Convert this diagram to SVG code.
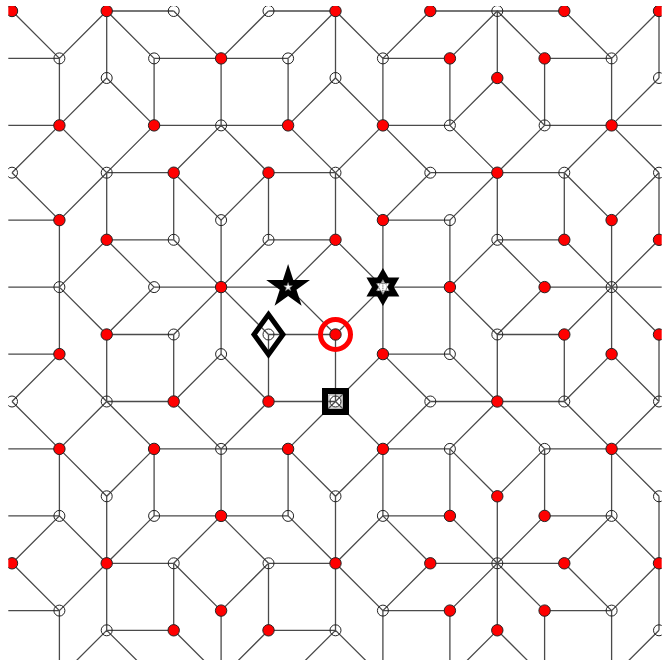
<svg xmlns="http://www.w3.org/2000/svg" width="669" height="662" viewBox="0 0 669 662">
<style>
.e{fill:none;stroke:#4a4a4a;stroke-width:1.3}
.r{fill:#f00;stroke:#222;stroke-width:1}
.w{fill:none;stroke:#222;stroke-width:1}
</style>
<defs>
<clipPath id="clip"><rect x="8.3" y="6" width="653.4" height="654"/></clipPath>
</defs>
<rect width="669" height="662" fill="#fff"/>
<g clip-path="url(#clip)">
<g id="connectors" class="e">
<path d="M106.7 11H173.7M268.5 11H335.5M430.3 11H564.3M106.7 563.3H173.7M268.5 563.3H335.5M430.3 563.3H564.3M-7.6 58.4H59.4M154.1 58.4H288.1M382.9 58.4H449.9M544.6 58.4H611.6M-7.6 515.9H59.4M154.1 515.9H288.1M382.9 515.9H449.9M544.6 515.9H611.6M-7.6 125.4H59.4M154.1 125.4H288.1M382.9 125.4H449.9M544.6 125.4H678.6M-7.6 448.9H59.4M154.1 448.9H288.1M382.9 448.9H449.9M544.6 448.9H678.6M106.7 172.7H173.7M268.5 172.7H335.5M430.3 172.7H564.3M106.7 401.5H173.7M268.5 401.5H335.5M430.3 401.5H564.3M-7.6 220.1H59.4M382.9 220.1H449.9M-7.6 354.1H59.4M382.9 354.1H449.9M106.7 239.8H173.7M268.5 239.8H335.5M497.3 239.8H564.3M106.7 334.5H173.7M268.5 334.5H335.5M497.3 334.5H564.3M-7.6 287.1H59.4M154.1 287.1H288.1M382.9 287.1H449.9M544.6 287.1H678.6M-7.6 610.6H59.4M382.9 610.6H449.9M544.6 610.6H611.6M106.7 630.3H173.7M268.5 630.3H335.5"/>
<path d="M106.7 11V78M335.5 11V78M497.3 11V78M659 11V78M106.7 496.3V630.3M335.5 496.3V630.3M497.3 496.3V630.3M659 496.3V630.3M173.7 563.3V630.3M268.5 563.3V630.3M59.4 58.4V125.4M154.1 58.4V125.4M221.1 58.4V125.4M288.1 58.4V125.4M382.9 58.4V125.4M449.9 58.4V125.4M544.6 58.4V125.4M611.6 58.4V125.4M59.4 448.9V515.9M154.1 448.9V515.9M221.1 448.9V515.9M288.1 448.9V515.9M382.9 448.9V515.9M449.9 448.9V515.9M544.6 448.9V515.9M611.6 448.9V515.9M59.4 610.6V677.6M221.1 610.6V677.6M382.9 610.6V677.6M449.9 610.6V677.6M544.6 610.6V677.6M611.6 610.6V677.6M106.7 172.7V239.8M173.7 172.7V239.8M268.5 172.7V239.8M335.5 172.7V239.8M497.3 172.7V239.8M564.3 172.7V239.8M659 172.7V239.8M106.7 334.5V401.5M173.7 334.5V401.5M268.5 334.5V401.5M335.5 334.5V401.5M497.3 334.5V401.5M564.3 334.5V401.5M659 334.5V401.5M59.4 220.1V354.1M221.1 220.1V354.1M382.9 220.1V354.1M449.9 220.1V354.1M611.6 220.1V354.1"/>
<path d="M12 11L59.4 58.4L106.7 11L154.1 58.4M173.7 11L221.1 58.4L268.5 11M288.1 58.4L335.5 11L382.9 58.4L430.3 11M449.9 58.4L497.3 11L544.6 58.4M564.3 11L611.6 58.4L659 11M12 563.3L59.4 515.9L106.7 563.3L154.1 515.9M173.7 563.3L221.1 515.9L268.5 563.3M288.1 515.9L335.5 563.3L382.9 515.9L430.3 563.3M449.9 515.9L497.3 563.3L544.6 515.9M564.3 563.3L611.6 515.9L659 563.3M12 563.3L59.4 610.6L106.7 563.3M173.7 563.3L221.1 610.6L268.5 563.3M335.5 563.3L382.9 610.6L430.3 563.3M449.9 610.6L497.3 563.3L544.6 610.6M564.3 563.3L611.6 610.6L659 563.3M59.4 125.4L106.7 78L154.1 125.4M288.1 125.4L335.5 78L382.9 125.4M449.9 125.4L497.3 78L544.6 125.4M611.6 125.4L659 78M59.4 448.9L106.7 496.3L154.1 448.9M288.1 448.9L335.5 496.3L382.9 448.9M449.9 448.9L497.3 496.3L544.6 448.9M611.6 448.9L659 496.3M12 172.7L59.4 125.4L106.7 172.7L154.1 125.4M173.7 172.7L221.1 125.4L268.5 172.7M288.1 125.4L335.5 172.7L382.9 125.4L430.3 172.7M449.9 125.4L497.3 172.7L544.6 125.4M564.3 172.7L611.6 125.4L659 172.7M12 401.5L59.4 448.9L106.7 401.5L154.1 448.9M173.7 401.5L221.1 448.9L268.5 401.5M288.1 448.9L335.5 401.5L382.9 448.9L430.3 401.5M449.9 448.9L497.3 401.5L544.6 448.9M564.3 401.5L611.6 448.9L659 401.5M12 172.7L59.4 220.1L106.7 172.7M173.7 172.7L221.1 220.1L268.5 172.7M335.5 172.7L382.9 220.1L430.3 172.7M497.3 172.7L449.9 220.1M564.3 172.7L611.6 220.1L659 172.7M12 401.5L59.4 354.1L106.7 401.5M173.7 401.5L221.1 354.1L268.5 401.5M335.5 401.5L382.9 354.1L430.3 401.5M497.3 401.5L449.9 354.1M564.3 401.5L611.6 354.1L659 401.5M59.4 287.1L106.7 239.8L154.1 287.1M173.7 239.8L221.1 287.1L268.5 239.8M288.1 287.1L335.5 239.8L382.9 287.1M449.9 287.1L497.3 239.8L544.6 287.1M564.3 239.8L611.6 287.1L659 239.8M59.4 287.1L106.7 334.5L154.1 287.1M173.7 334.5L221.1 287.1L268.5 334.5M288.1 287.1L335.5 334.5L382.9 287.1M449.9 287.1L497.3 334.5L544.6 287.1M564.3 334.5L611.6 287.1L659 334.5M59.4 677.6L106.7 630.3L154.1 677.6M173.7 630.3L221.1 677.6L268.5 630.3M288.1 677.6L335.5 630.3L382.9 677.6M449.9 677.6L497.3 630.3L544.6 677.6M611.6 677.6L659 630.3"/>
</g>
<g id="nodes">
<g id="n-a1"><circle class="r" cx="12" cy="11" r="5.7"/></g>
<g id="n-c1"><circle class="r" cx="106.7" cy="11" r="5.7"/></g>
<g id="n-e1"><circle class="w" cx="173.7" cy="11" r="5.5"/></g>
<g id="n-g1"><circle class="w" cx="268.5" cy="11" r="5.5"/></g>
<g id="n-i1"><circle class="r" cx="335.5" cy="11" r="5.7"/></g>
<g id="n-k1"><circle class="r" cx="430.3" cy="11" r="5.7"/></g>
<g id="n-m1"><circle class="w" cx="497.3" cy="11" r="5.5"/></g>
<g id="n-o1"><circle class="r" cx="564.3" cy="11" r="5.7"/></g>
<g id="n-q1"><circle class="r" cx="659" cy="11" r="5.7"/></g>
<g id="n-b2"><circle class="w" cx="59.4" cy="58.4" r="5.5"/></g>
<g id="n-d2"><circle class="w" cx="154.1" cy="58.4" r="5.5"/></g>
<g id="n-f2"><circle class="r" cx="221.1" cy="58.4" r="5.7"/></g>
<g id="n-h2"><circle class="w" cx="288.1" cy="58.4" r="5.5"/></g>
<g id="n-j2"><circle class="w" cx="382.9" cy="58.4" r="5.5"/></g>
<g id="n-l2"><circle class="r" cx="449.9" cy="58.4" r="5.7"/></g>
<g id="n-n2"><circle class="r" cx="544.6" cy="58.4" r="5.7"/></g>
<g id="n-p2"><circle class="w" cx="611.6" cy="58.4" r="5.5"/></g>
<g id="n-c3"><circle class="w" cx="106.7" cy="78" r="5.5"/></g>
<g id="n-i3"><circle class="w" cx="335.5" cy="78" r="5.5"/></g>
<g id="n-m3"><circle class="r" cx="497.3" cy="78" r="5.7"/></g>
<g id="n-q3"><circle class="w" cx="659" cy="78" r="5.5"/></g>
<g id="n-b4"><circle class="r" cx="59.4" cy="125.4" r="5.7"/></g>
<g id="n-d4"><circle class="r" cx="154.1" cy="125.4" r="5.7"/></g>
<g id="n-f4"><circle class="w" cx="221.1" cy="125.4" r="5.5"/></g>
<g id="n-h4"><circle class="r" cx="288.1" cy="125.4" r="5.7"/></g>
<g id="n-j4"><circle class="r" cx="382.9" cy="125.4" r="5.7"/></g>
<g id="n-l4"><circle class="w" cx="449.9" cy="125.4" r="5.5"/></g>
<g id="n-n4"><circle class="w" cx="544.6" cy="125.4" r="5.5"/></g>
<g id="n-p4"><circle class="r" cx="611.6" cy="125.4" r="5.7"/></g>
<g id="n-a5"><circle class="w" cx="12" cy="172.7" r="5.5"/></g>
<g id="n-c5"><circle class="w" cx="106.7" cy="172.7" r="5.5"/></g>
<g id="n-e5"><circle class="r" cx="173.7" cy="172.7" r="5.7"/></g>
<g id="n-g5"><circle class="r" cx="268.5" cy="172.7" r="5.7"/></g>
<g id="n-i5"><circle class="w" cx="335.5" cy="172.7" r="5.5"/></g>
<g id="n-k5"><circle class="w" cx="430.3" cy="172.7" r="5.5"/></g>
<g id="n-m5"><circle class="r" cx="497.3" cy="172.7" r="5.7"/></g>
<g id="n-o5"><circle class="w" cx="564.3" cy="172.7" r="5.5"/></g>
<g id="n-q5"><circle class="w" cx="659" cy="172.7" r="5.5"/></g>
<g id="n-b6"><circle class="r" cx="59.4" cy="220.1" r="5.7"/></g>
<g id="n-f6"><circle class="w" cx="221.1" cy="220.1" r="5.5"/></g>
<g id="n-j6"><circle class="r" cx="382.9" cy="220.1" r="5.7"/></g>
<g id="n-l6"><circle class="w" cx="449.9" cy="220.1" r="5.5"/></g>
<g id="n-p6"><circle class="r" cx="611.6" cy="220.1" r="5.7"/></g>
<g id="n-c7"><circle class="r" cx="106.7" cy="239.8" r="5.7"/></g>
<g id="n-e7"><circle class="w" cx="173.7" cy="239.8" r="5.5"/></g>
<g id="n-g7"><circle class="w" cx="268.5" cy="239.8" r="5.5"/></g>
<g id="n-i7"><circle class="r" cx="335.5" cy="239.8" r="5.7"/></g>
<g id="n-m7"><circle class="w" cx="497.3" cy="239.8" r="5.5"/></g>
<g id="n-o7"><circle class="r" cx="564.3" cy="239.8" r="5.7"/></g>
<g id="n-q7"><circle class="r" cx="659" cy="239.8" r="5.7"/></g>
<g id="n-b8"><circle class="w" cx="59.4" cy="287.1" r="5.5"/></g>
<g id="n-d8"><circle class="w" cx="154.1" cy="287.1" r="5.5"/></g>
<g id="n-f8"><circle class="r" cx="221.1" cy="287.1" r="5.7"/></g>
<g id="n-h8"><circle class="w" cx="288.1" cy="287.1" r="5.5"/></g>
<g id="n-j8"><circle class="w" cx="382.9" cy="287.1" r="5.5"/></g>
<g id="n-l8"><circle class="r" cx="449.9" cy="287.1" r="5.7"/></g>
<g id="n-n8"><circle class="r" cx="544.6" cy="287.1" r="5.7"/></g>
<g id="n-p8"><circle class="w" cx="611.6" cy="287.1" r="5.5"/></g>
<g id="n-c9"><circle class="r" cx="106.7" cy="334.5" r="5.7"/></g>
<g id="n-e9"><circle class="w" cx="173.7" cy="334.5" r="5.5"/></g>
<g id="n-g9"><circle class="w" cx="268.5" cy="334.5" r="5.5"/></g>
<g id="n-i9"><circle class="r" cx="335.5" cy="334.5" r="5.7"/></g>
<g id="n-m9"><circle class="w" cx="497.3" cy="334.5" r="5.5"/></g>
<g id="n-o9"><circle class="r" cx="564.3" cy="334.5" r="5.7"/></g>
<g id="n-q9"><circle class="r" cx="659" cy="334.5" r="5.7"/></g>
<g id="n-b10"><circle class="r" cx="59.4" cy="354.1" r="5.7"/></g>
<g id="n-f10"><circle class="w" cx="221.1" cy="354.1" r="5.5"/></g>
<g id="n-j10"><circle class="r" cx="382.9" cy="354.1" r="5.7"/></g>
<g id="n-l10"><circle class="w" cx="449.9" cy="354.1" r="5.5"/></g>
<g id="n-p10"><circle class="r" cx="611.6" cy="354.1" r="5.7"/></g>
<g id="n-a11"><circle class="w" cx="12" cy="401.5" r="5.5"/></g>
<g id="n-c11"><circle class="w" cx="106.7" cy="401.5" r="5.5"/></g>
<g id="n-e11"><circle class="r" cx="173.7" cy="401.5" r="5.7"/></g>
<g id="n-g11"><circle class="r" cx="268.5" cy="401.5" r="5.7"/></g>
<g id="n-i11"><circle class="w" cx="335.5" cy="401.5" r="5.5"/></g>
<g id="n-k11"><circle class="w" cx="430.3" cy="401.5" r="5.5"/></g>
<g id="n-m11"><circle class="r" cx="497.3" cy="401.5" r="5.7"/></g>
<g id="n-o11"><circle class="w" cx="564.3" cy="401.5" r="5.5"/></g>
<g id="n-q11"><circle class="w" cx="659" cy="401.5" r="5.5"/></g>
<g id="n-b12"><circle class="r" cx="59.4" cy="448.9" r="5.7"/></g>
<g id="n-d12"><circle class="r" cx="154.1" cy="448.9" r="5.7"/></g>
<g id="n-f12"><circle class="w" cx="221.1" cy="448.9" r="5.5"/></g>
<g id="n-h12"><circle class="r" cx="288.1" cy="448.9" r="5.7"/></g>
<g id="n-j12"><circle class="r" cx="382.9" cy="448.9" r="5.7"/></g>
<g id="n-l12"><circle class="w" cx="449.9" cy="448.9" r="5.5"/></g>
<g id="n-n12"><circle class="w" cx="544.6" cy="448.9" r="5.5"/></g>
<g id="n-p12"><circle class="r" cx="611.6" cy="448.9" r="5.7"/></g>
<g id="n-c13"><circle class="w" cx="106.7" cy="496.3" r="5.5"/></g>
<g id="n-i13"><circle class="w" cx="335.5" cy="496.3" r="5.5"/></g>
<g id="n-m13"><circle class="r" cx="497.3" cy="496.3" r="5.7"/></g>
<g id="n-q13"><circle class="w" cx="659" cy="496.3" r="5.5"/></g>
<g id="n-b14"><circle class="w" cx="59.4" cy="515.9" r="5.5"/></g>
<g id="n-d14"><circle class="w" cx="154.1" cy="515.9" r="5.5"/></g>
<g id="n-f14"><circle class="r" cx="221.1" cy="515.9" r="5.7"/></g>
<g id="n-h14"><circle class="w" cx="288.1" cy="515.9" r="5.5"/></g>
<g id="n-j14"><circle class="w" cx="382.9" cy="515.9" r="5.5"/></g>
<g id="n-l14"><circle class="r" cx="449.9" cy="515.9" r="5.7"/></g>
<g id="n-n14"><circle class="r" cx="544.6" cy="515.9" r="5.7"/></g>
<g id="n-p14"><circle class="w" cx="611.6" cy="515.9" r="5.5"/></g>
<g id="n-a15"><circle class="r" cx="12" cy="563.3" r="5.7"/></g>
<g id="n-c15"><circle class="r" cx="106.7" cy="563.3" r="5.7"/></g>
<g id="n-e15"><circle class="w" cx="173.7" cy="563.3" r="5.5"/></g>
<g id="n-g15"><circle class="w" cx="268.5" cy="563.3" r="5.5"/></g>
<g id="n-i15"><circle class="r" cx="335.5" cy="563.3" r="5.7"/></g>
<g id="n-k15"><circle class="r" cx="430.3" cy="563.3" r="5.7"/></g>
<g id="n-m15"><circle class="w" cx="497.3" cy="563.3" r="5.5"/></g>
<g id="n-o15"><circle class="r" cx="564.3" cy="563.3" r="5.7"/></g>
<g id="n-q15"><circle class="r" cx="659" cy="563.3" r="5.7"/></g>
<g id="n-b16"><circle class="w" cx="59.4" cy="610.6" r="5.5"/></g>
<g id="n-f16"><circle class="r" cx="221.1" cy="610.6" r="5.7"/></g>
<g id="n-j16"><circle class="w" cx="382.9" cy="610.6" r="5.5"/></g>
<g id="n-l16"><circle class="r" cx="449.9" cy="610.6" r="5.7"/></g>
<g id="n-n16"><circle class="r" cx="544.6" cy="610.6" r="5.7"/></g>
<g id="n-p16"><circle class="w" cx="611.6" cy="610.6" r="5.5"/></g>
<g id="n-c17"><circle class="w" cx="106.7" cy="630.3" r="5.5"/></g>
<g id="n-e17"><circle class="r" cx="173.7" cy="630.3" r="5.7"/></g>
<g id="n-g17"><circle class="r" cx="268.5" cy="630.3" r="5.7"/></g>
<g id="n-i17"><circle class="w" cx="335.5" cy="630.3" r="5.5"/></g>
<g id="n-m17"><circle class="r" cx="497.3" cy="630.3" r="5.7"/></g>
<g id="n-q17"><circle class="w" cx="659" cy="630.3" r="5.5"/></g>
</g>
<g id="marker-star">
<polygon points="288.1,264.1 293.27,279.98 309.98,279.99 296.47,289.82 301.62,305.71 288.1,295.9 274.58,305.71 279.73,289.82 266.22,279.99 282.93,279.98" fill="#000"/>
<polygon points="288.1,282.6 289.16,285.64 292.38,285.71 289.81,287.66 290.75,290.74 288.1,288.9 285.45,290.74 286.39,287.66 283.82,285.71 287.04,285.64" fill="#fff" stroke="#777" stroke-width="0.6"/>
</g>
<g id="marker-hexagram">
<polygon points="382.9,268.1 399.35,296.6 366.45,296.6" fill="#000"/>
<polygon points="382.9,306.1 399.35,277.6 366.45,277.6" fill="#000"/>
<polygon points="382.9,279.6 389.4,290.85 376.4,290.85" fill="#fff" stroke="#555" stroke-width="0.7" stroke-dasharray="1.2 1"/>
<polygon points="382.9,294.6 389.4,283.35 376.4,283.35" fill="#fff" stroke="#555" stroke-width="0.7" stroke-dasharray="1.2 1"/>
<circle cx="382.9" cy="287.1" r="4.2" fill="none" stroke="#444" stroke-width="0.7" stroke-dasharray="1.2 1"/>
<path d="M382.9 281V293.2" stroke="#333" stroke-width="0.8" stroke-dasharray="1.2 1"/>
</g>
<g id="marker-diamond">
<polygon points="268.5,314.5 283,334.5 268.5,354.5 254,334.5" fill="none" stroke="#000" stroke-width="5" stroke-linejoin="miter"/>
</g>
<g id="marker-square">
<rect x="325" y="391" width="21" height="21" fill="none" stroke="#000" stroke-width="6"/>
<rect x="328.9" y="394.9" width="13.2" height="13.2" fill="none" stroke="#777" stroke-width="0.8"/>
</g>
<g id="marker-target">
<circle cx="335.5" cy="334.5" r="15" fill="none" stroke="#f00" stroke-width="5"/>
</g>
</g>
</svg>
